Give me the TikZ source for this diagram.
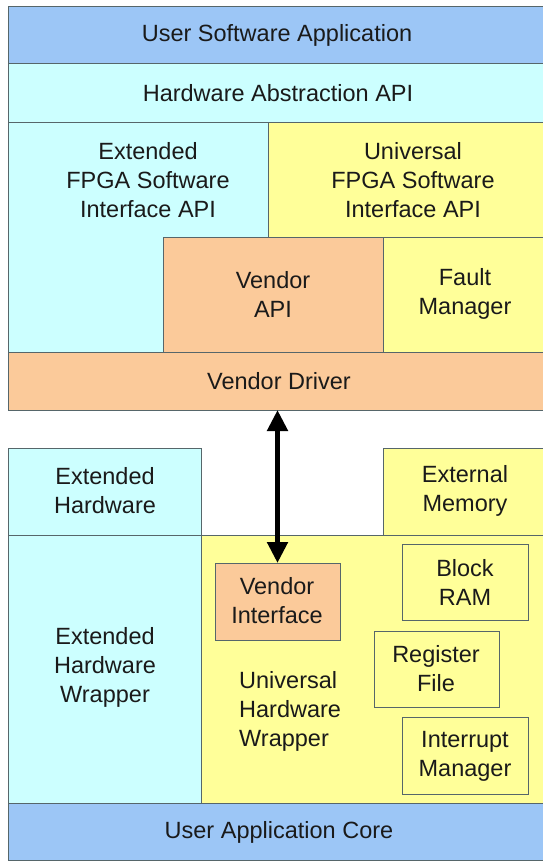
\documentclass[tikz,border=0pt]{standalone}
\usepackage{fontspec}
\setmainfont{Liberation Sans}
\usetikzlibrary{arrows.meta}

\definecolor{appblue}{HTML}{9CC6F6}
\definecolor{apicyan}{HTML}{CCFFFF}
\definecolor{univyellow}{HTML}{FFFF99}
\definecolor{vendororange}{HTML}{FBCA9A}
\definecolor{edge}{HTML}{56666A}
\definecolor{ink}{HTML}{1A1A1A}

\tikzset{
  blk/.style={draw=edge, line width=1pt, rectangle, inner sep=0pt, outer sep=0pt},
  lbl/.style={text=ink, align=center, inner sep=0pt,
    font=\fontsize{23.5}{29}\selectfont},
  lbll/.style={lbl, align=left},
  biarrow/.style={line width=5pt, {Triangle[length=21pt,width=20pt]}-{Triangle[length=21pt,width=20pt]}}
}

% block from corner (x1,y1) to corner (x2,y2), y measured downwards
\newcommand{\blkrect}[6]{%
  \node[blk, fill=#6, minimum width={(#4-#2)*1pt}, minimum height={(#5-#3)*1pt}]
    (#1) at ({(#2+#4)/2},{(#3+#5)/2}) {};}

\begin{document}
\begin{tikzpicture}[x=1pt, y=-1pt]
  \useasboundingbox (0,0) rectangle (543,863);
  \clip (0,0) rectangle (543,863);
  \fill[white] (0,0) rectangle (543,863);

  % software stack
  \blkrect{usa}{8}{6}{548}{63}{appblue}
  \blkrect{haa}{8}{63}{548}{122}{apicyan}
  \blkrect{efsi}{8}{122}{268}{352}{apicyan}
  \blkrect{ufsi}{268}{122}{548}{237}{univyellow}
  \blkrect{vapi}{163}{237}{383}{352}{vendororange}
  \blkrect{fm}{383}{237}{548}{352}{univyellow}
  \blkrect{vd}{8}{352}{548}{410}{vendororange}

  % hardware stack
  \blkrect{eh}{8}{448}{201}{535}{apicyan}
  \blkrect{em}{383}{448}{548}{535}{univyellow}
  \blkrect{ehw}{8}{535}{201}{803}{apicyan}
  \blkrect{uhw}{201}{535}{548}{803}{univyellow}
  \blkrect{vi}{215}{563}{340}{640}{vendororange}
  \blkrect{bram}{402}{544}{528}{620}{univyellow}
  \blkrect{rf}{374}{631}{499}{707}{univyellow}
  \blkrect{im}{402}{717}{528}{794}{univyellow}
  \blkrect{uac}{8}{803}{548}{860}{appblue}

  % labels
  \node[lbl] (tusa) at (277,35) {User Software Application};
  \node[lbl] (thaa) at (278,93) {Hardware Abstraction API};
  \node[lbl] (tefsi) at (148,180) {Extended\\FPGA Software\\Interface API};
  \node[lbl] (tufsi) at (413,180) {Universal\\FPGA Software\\Interface API};
  \node[lbl] (tvapi) at (273,294) {Vendor\\API};
  \node[lbl] (tfm) at (465,294) {Fault\\Manager};
  \node[lbl] (tvd) at (279,381) {Vendor Driver};
  \node[lbl] (teh) at (105,491) {Extended\\Hardware};
  \node[lbl] (tem) at (465,491) {External\\Memory};
  \node[lbl] (tehw) at (105,667) {Extended\\Hardware\\Wrapper};
  \node[lbl] (tvi) at (277,601) {Vendor\\Interface};
  \node[lbl] (tbram) at (465,582) {Block\\RAM};
  \node[lbl] (trf) at (436,669) {Register\\File};
  \node[lbll, anchor=west] (tuhw) at (239,711) {Universal\\Hardware\\Wrapper};
  \node[lbl] (tim) at (465,756) {Interrupt\\Manager};
  \node[lbl] (tuac) at (279,832) {User Application Core};

  % driver <-> interface link
  \draw[biarrow] (vi.north |- vd.south) -- (vi.north);
\end{tikzpicture}
\end{document}
